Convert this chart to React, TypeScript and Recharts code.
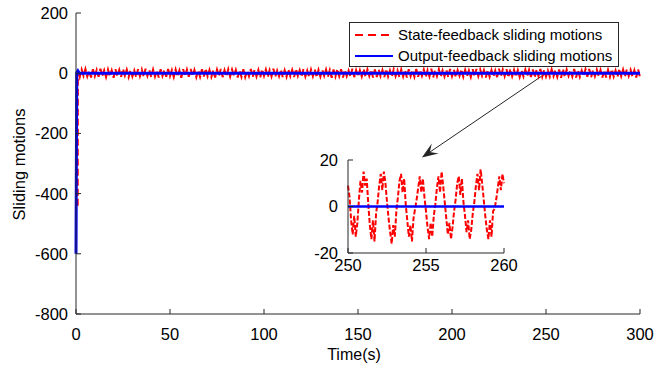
import React from 'react';
import { LineChart, Line, XAxis, YAxis, ReferenceLine, Legend } from 'recharts';

// main plot axes
const mainXTicks = [0, 50, 100, 150, 200, 250, 300];
const mainYTicks = [-800, -600, -400, -200, 0, 200];

const seriesNames = ['State-feedback sliding motions', 'Output-feedback sliding motions'];
const xLabel = 'Time(s)';
const yLabel = 'Sliding motions';

// initial transient (time, value)
const redStartT = [0.9];
const redStartV = [-440];
const blueMainT = [0, 0.4, 1.0, 1.8, 300];
const blueMainV = [-600, 2, 8, 0, 0];

// chattering of the state-feedback sliding motion, sampled every 1 s from 1 s
const redNoiseStart = 1;
const redNoiseStep = 1;
const redNoise = [
  10, -13, 12, -9, 14, -11, 8, -14, 13, -10,
  11, -12, 15, -9, 10, -13, 12, -11, 9, -15,
  13, -10, 11, -12, 14, -8, 12, -13, 10, -11,
  9, -14, 13, -10, 12, -12, 15, -9, 11, -13,
  12, -11, 10, -14, 13, -9, 11, -12, 14, -10,
  10, -13, 12, -11, 9, -15, 13, -10, 12, -12,
  14, -9, 11, -13, 10, -12, 13, -11, 15, -10,
  11, -12, 9, -14, 12, -10, 14, -13, 10, -11,
  13, -11, 12, -9, 11, -14, 10, -12, 13, -13,
  9, -10, 14, -12, 12, -11, 11, -15, 13, -9,
  12, -13, 10, -11, 15, -12, 9, -10, 12, -14,
  10, -12, 13, -10, 11, -13, 14, -9, 10, -12,
  14, -11, 9, -13, 12, -10, 13, -14, 11, -11,
  11, -9, 12, -12, 10, -15, 12, -11, 14, -10,
  13, -14, 11, -10, 9, -12, 15, -13, 10, -11,
  10, -11, 14, -12, 13, -9, 11, -14, 12, -13,
  12, -10, 10, -13, 14, -11, 9, -12, 13, -10,
  9, -13, 12, -11, 11, -14, 13, -10, 10, -12,
  14, -12, 11, -9, 12, -13, 10, -11, 15, -14,
  11, -10, 13, -12, 9, -11, 12, -13, 14, -10,
  12, -14, 10, -9, 13, -12, 11, -10, 9, -13,
  13, -11, 14, -10, 12, -9, 10, -14, 11, -12,
  10, -12, 9, -13, 15, -11, 12, -10, 13, -14,
  14, -10, 11, -12, 10, -13, 9, -11, 12, -9,
  11, -13, 12, -14, 13, -10, 14, -12, 10, -11,
  9, -11, 13, -10, 11, -12, 12, -15, 14, -13,
  12, -9, 10, -11, 14, -14, 11, -12, 9, -10,
  13, -12, 14, -13, 10, -10, 12, -9, 11, -14,
  10, -14, 11, -12, 13, -11, 9, -13, 15, -10,
  12, -11, 13, -9, 11, -12, 10, -14, 12, -13,
];

// inset (zoom on 250..260 s), red sampled every 0.1 s
const insetXTicks = [250, 255, 260];
const insetYTicks = [-20, 0, 20];
const insetStart = 250;
const insetStep = 0.1;
const insetRed = [
  9, 4, -6, -12, -4, -13, -7, 3, 11, 6,
  15, 9, 12, 1, -8, -14, -6, -15, -3, 2,
  9, 14, 7, 15, 10, 2, -5, -11, -16, -8,
  -13, -2, 4, 11, 14, 6, 12, 1, -6, -13,
  -8, -15, -5, -1, 3, 8, 13, 6, 12, 4,
  -2, -9, -14, -7, -13, -4, 1, 8, 13, 6,
  15, 9, 2, -5, -12, -7, -14, -9, -2, 3,
  10, 13, 5, 12, 2, -4, -11, -6, -14, -10,
  -3, 2, 9, 14, 7, 16, 10, 3, -4, -10,
  -14, -6, -13, -2, -1, 3, 8, 13, 7, 14,
  10,
];
const insetBlueT = [250, 260];
const insetBlueV = [0, 0];

const RED = '#ff0000';
const BLUE = '#0000ff';
const AXIS = '#262626';
const TEXT = '#000';
const FONT = '"Liberation Sans", Arial, sans-serif';
const TICK_FS = 16.5;

const redMain = [
  ...redStartT.map((t, i) => ({ t, v: redStartV[i] })),
  ...redNoise.map((v, i) => ({ t: redNoiseStart + i * redNoiseStep, v })),
];
const blueMain = blueMainT.map((t, i) => ({ t, v: blueMainV[i] }));
const redInset = insetRed.map((v, i) => ({ t: insetStart + i * insetStep, v }));
const blueInset = insetBlueT.map((t, i) => ({ t, v: insetBlueV[i] }));

function XTick(props: any) {
  const { x, y, payload } = props;
  return (
    <text x={x} y={y} dy="0.72em" textAnchor="middle" fontSize={TICK_FS} fill={TEXT} fontFamily={FONT}>
      {payload.value}
    </text>
  );
}

function YTick(props: any) {
  const { x, y, payload } = props;
  return (
    <text x={x} y={y} dy="0.36em" textAnchor="end" fontSize={TICK_FS} fill={TEXT} fontFamily={FONT}>
      {payload.value}
    </text>
  );
}

function XLabel(props: any) {
  const vb = props.viewBox;
  return (
    <text x={vb.x + vb.width / 2 - 4} y={vb.y + 45.5} textAnchor="middle" fontSize={16} fill={TEXT} fontFamily={FONT}>
      {xLabel}
    </text>
  );
}

function YLabel(props: any) {
  const vb = props.viewBox;
  const cx = 25;
  const cy = vb.y + vb.height / 2 + 1;
  return (
    <text
      x={cx}
      y={cy}
      transform={`rotate(-90, ${cx}, ${cy})`}
      textAnchor="middle"
      fontSize={16.5}
      fill={TEXT}
      fontFamily={FONT}
    >
      {yLabel}
    </text>
  );
}

function Arrow(props: any) {
  const { x1, y1, x2, y2 } = props;
  const dx = x2 - x1;
  const dy = y2 - y1;
  const len = Math.sqrt(dx * dx + dy * dy);
  const ux = dx / len;
  const uy = dy / len;
  const head = 16;
  const half = 6;
  const bx = x2 - ux * head;
  const by = y2 - uy * head;
  const nx = x2 - ux * head * 0.6;
  const ny = y2 - uy * head * 0.6;
  const pts = [
    [x2, y2],
    [bx - uy * half, by + ux * half],
    [nx, ny],
    [bx + uy * half, by - ux * half],
  ]
    .map((p) => p.join(','))
    .join(' ');
  return (
    <g>
      <line x1={x1} y1={y1} x2={nx} y2={ny} stroke={AXIS} strokeWidth={1} />
      <polygon points={pts} fill={AXIS} />
    </g>
  );
}

function LegendBox(props: any) {
  const payload = props.payload || [];
  const items = seriesNames
    .map((name) => payload.find((p: any) => p.value === name))
    .filter(Boolean);
  return (
    <div
      style={{
        width: 268,
        height: 43,
        border: `1px solid ${AXIS}`,
        background: '#fff',
        fontFamily: FONT,
        fontSize: 15,
        color: TEXT,
      }}
    >
      {items.map((p: any, i: number) => (
        <div key={i} style={{ display: 'flex', alignItems: 'center', height: 21, marginTop: i === 0 ? 1 : 0 }}>
          <svg width={48} height={21}>
            <line
              x1={5}
              y1={11}
              x2={i === 0 ? 41 : 43}
              y2={11}
              stroke={p.color}
              strokeWidth={2}
              strokeDasharray={i === 0 ? '8 5' : undefined}
            />
          </svg>
          <span style={{ whiteSpace: 'nowrap' }}>{p.value}</span>
        </div>
      ))}
    </div>
  );
}

export default function App() {
  return (
    <div style={{ position: 'relative', width: 654, height: 374, background: '#fff', fontFamily: FONT }}>
      <style>{'body{margin:0}'}</style>
      <LineChart width={654} height={374} margin={{ top: 13, right: 14, bottom: 0, left: 0 }}>
        <XAxis
          dataKey="t"
          type="number"
          domain={[0, 300]}
          ticks={mainXTicks}
          height={60}
          tickSize={-5}
          tickMargin={19}
          stroke={AXIS}
          tick={<XTick />}
          label={{ content: XLabel }}
        />
        <XAxis xAxisId="top" orientation="top" type="number" domain={[0, 300]} ticks={mainXTicks} height={0} tickSize={-5} tick={false} stroke={AXIS} />
        <YAxis
          type="number"
          domain={[-800, 200]}
          ticks={mainYTicks}
          width={76}
          tickSize={-5}
          tickMargin={13}
          stroke={AXIS}
          tick={<YTick />}
          label={{ content: YLabel }}
        />
        <YAxis yAxisId="right" orientation="right" type="number" domain={[-800, 200]} ticks={mainYTicks} width={0} tickSize={-5} tick={false} stroke={AXIS} />
        <Legend
          layout="horizontal"
          verticalAlign="middle"
          align="center"
          wrapperStyle={{ position: 'absolute', left: 349, top: 22, width: 270, height: 45 }}
          content={LegendBox}
        />
        <ReferenceLine segment={[{ x: 250, y: 0 }, { x: 184, y: -280 }]} shape={Arrow} ifOverflow="visible" />
        <Line
          data={redMain}
          dataKey="v"
          name={seriesNames[0]}
          stroke={RED}
          strokeWidth={2}
          strokeDasharray="7 3"
          dot={false}
          activeDot={false}
          isAnimationActive={false}
        />
        <Line
          data={blueMain}
          dataKey="v"
          name={seriesNames[1]}
          stroke={BLUE}
          strokeWidth={3}
          dot={false}
          activeDot={false}
          isAnimationActive={false}
        />
      </LineChart>

      <div style={{ position: 'absolute', left: 300, top: 150 }}>
        <LineChart width={234} height={140} margin={{ top: 10, right: 30, bottom: 0, left: 0 }}>
          <XAxis dataKey="t" type="number" domain={[250, 260]} ticks={insetXTicks} height={37} tickSize={-5} tickMargin={11} stroke={AXIS} tick={<XTick />} />
          <XAxis xAxisId="top" orientation="top" type="number" domain={[250, 260]} ticks={insetXTicks} height={0} tickSize={-5} tick={false} stroke={AXIS} />
          <YAxis type="number" domain={[-20, 20]} ticks={insetYTicks} width={48} tickSize={-5} tickMargin={15} stroke={AXIS} tick={<YTick />} />
          <YAxis yAxisId="right" orientation="right" type="number" domain={[-20, 20]} ticks={insetYTicks} width={0} tickSize={-5} tick={false} stroke={AXIS} />
          <Line data={redInset} dataKey="v" stroke={RED} strokeWidth={2} strokeDasharray="5 2" dot={false} activeDot={false} isAnimationActive={false} />
          <Line data={blueInset} dataKey="v" stroke={BLUE} strokeWidth={2.5} dot={false} activeDot={false} isAnimationActive={false} />
        </LineChart>
      </div>
    </div>
  );
}
